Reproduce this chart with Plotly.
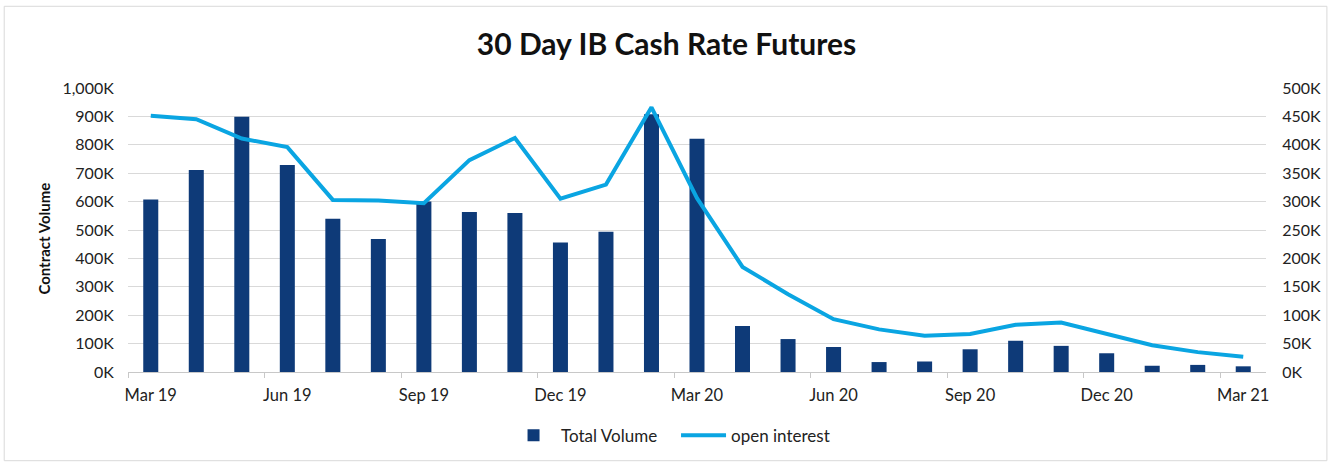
import plotly.graph_objects as go

months = ["Mar 19", "Apr 19", "May 19", "Jun 19", "Jul 19", "Aug 19", "Sep 19", "Oct 19",
          "Nov 19", "Dec 19", "Jan 20", "Feb 20", "Mar 20", "Apr 20", "May 20", "Jun 20",
          "Jul 20", "Aug 20", "Sep 20", "Oct 20", "Nov 20", "Dec 20", "Jan 21", "Feb 21", "Mar 21"]
total_volume = [607000, 711000, 899000, 729000, 540000, 468000, 600000, 563000,
                560000, 456000, 494000, 908000, 821000, 162000, 116000, 88000,
                35000, 37000, 80000, 110000, 92000, 66000, 22000, 25000, 20000]
open_interest = [451000, 445000, 411000, 396000, 303000, 302000, 297000, 373000,
                 412000, 305000, 330000, 466000, 306000, 185000, 137000, 93000,
                 75000, 64000, 67000, 83000, 87000, 67000, 47000, 35000, 27000]
left_ticks = [0, 100000, 200000, 300000, 400000, 500000, 600000, 700000, 800000, 900000, 1000000]
left_labels = ["0K", "100K", "200K", "300K", "400K", "500K", "600K", "700K", "800K", "900K", "1,000K"]
right_ticks = [0, 50000, 100000, 150000, 200000, 250000, 300000, 350000, 400000, 450000, 500000]
right_labels = ["0K", "50K", "100K", "150K", "200K", "250K", "300K", "350K", "400K", "450K", "500K"]

idx = list(range(len(months)))
label_idx = idx[::3]
label_txt = [months[i] for i in label_idx]

FONT = "Lato"
fig = go.Figure()
fig.add_trace(go.Bar(x=idx, y=total_volume, name="Total Volume", width=0.33,
                     marker=dict(color="#0E3A78", line=dict(width=0)), yaxis="y"))
fig.add_trace(go.Scatter(x=idx, y=open_interest, name="open interest", mode="lines",
                         line=dict(color="#0AA5E2", width=4), yaxis="y2"))

fig.update_layout(
    width=1333, height=466,
    margin=dict(l=128, r=65, t=88, b=93),
    paper_bgcolor="white", plot_bgcolor="white",
    font=dict(family=FONT, size=16, color="#222222"),
    title=dict(text="<b>30 Day IB Cash Rate Futures</b>", x=0.5, xanchor="center",
               y=1 - 44 / 466, yanchor="middle", font=dict(family=FONT, size=30, color="#111111")),
    xaxis=dict(range=[-0.5, 24.5], tickmode="array", tickvals=label_idx, ticktext=label_txt,
               ticks="outside", ticklen=8, tickcolor="white", showgrid=False, showline=True,
               linecolor="#C8C8C8", linewidth=1,
               zeroline=False, tickfont=dict(size=16.5),
               minor=dict(tickmode="linear", tick0=-0.5, dtick=3, ticks="outside",
                          ticklen=5, tickcolor="#C8C8C8", showgrid=False)),
    yaxis=dict(range=[0, 1000000], tickmode="array", tickvals=left_ticks, ticktext=left_labels,
               showgrid=True, gridcolor="#D9D9D9", gridwidth=1, zeroline=False, showline=False,
               ticks="outside", ticklen=10, tickcolor="white", tickfont=dict(size=16)),
    yaxis2=dict(range=[0, 500000], overlaying="y", side="right", tickmode="array",
                tickvals=right_ticks, ticktext=right_labels, showgrid=False, zeroline=False,
                showline=False, ticks="outside", ticklen=12, tickcolor="white",
                tickfont=dict(size=16)),
    legend=dict(orientation="h", x=(677 - 128) / 1140, xanchor="center",
                y=(373 - 437) / 285, yanchor="middle",
                font=dict(size=17), bgcolor="rgba(0,0,0,0)", itemwidth=45,
                entrywidth=110, entrywidthmode="pixels"),
    annotations=[dict(text="<b>Contract Volume</b>", textangle=-90, showarrow=False,
                      xref="paper", yref="paper", x=(44 - 128) / 1140, y=(373 - 239) / 285,
                      xanchor="center", yanchor="middle", font=dict(size=15, color="#111111"))],
    shapes=[dict(type="rect", xref="paper", yref="paper",
                 x0=(4 - 128) / 1140, x1=(1329 - 128) / 1140,
                 y0=(373 - 462) / 285, y1=(373 - 6) / 285,
                 line=dict(color="#D9D9D9", width=1), fillcolor="rgba(0,0,0,0)", layer="below")],
)

fig.write_html("out.html", config={"displayModeBar": False},
               post_script="document.body.style.margin='0';document.body.style.padding='0';")
